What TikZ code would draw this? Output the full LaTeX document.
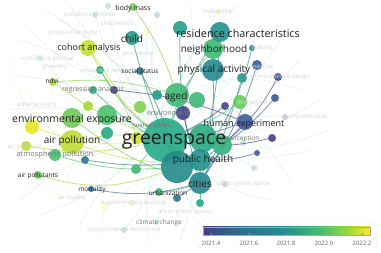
\documentclass[tikz,border=0pt]{standalone}
\usepackage{fontspec}
\setmainfont{Open Sans}
\usetikzlibrary{positioning,backgrounds}
\definecolor{c14}{HTML}{433E85}
\definecolor{c15}{HTML}{3B5B9A}
\definecolor{c16}{HTML}{2C728E}
\definecolor{c17}{HTML}{21918C}
\definecolor{c18}{HTML}{25A886}
\definecolor{c19}{HTML}{4AC16D}
\definecolor{c20}{HTML}{A5DB36}
\definecolor{c22}{HTML}{FDE725}
\definecolor{ctext}{HTML}{1E1E1E}
\pgfdeclarehorizontalshading{viridis}{100bp}{color(0bp)=(c14); color(25bp)=(c14);
  color(37bp)=(c16); color(50bp)=(c17); color(61bp)=(c19); color(69bp)=(c20); color(75bp)=(c22); color(100bp)=(c22)}

\begin{document}
\begin{tikzpicture}[x=1pt,y=-1pt,
  kw/.style={circle,inner sep=0pt,fill opacity=0.9,minimum size=#1},
  ghost/.style={circle,inner sep=0pt,fill opacity=0.25,minimum size=#1},
  lb/.style={text=ctext,inner sep=0pt,font=\fontsize{#1}{#1}\selectfont},
  mid/.style={text=black!55,inner sep=0pt,font=\fontsize{#1}{#1}\selectfont},
  dim/.style={text=black!17,inner sep=0pt,font=\fontsize{6}{6}\selectfont},
  lk/.style={line width=0.8pt,draw opacity=0.65},
  faint/.style={draw=c17!18,line width=0.35pt}]
  \useasboundingbox (0,0) rectangle (381,253);
  % keyword circles
  \node[kw=44pt,fill=c18] (gs) at (165,140) {};
  \node[kw=28pt,fill=c18!85!c19] (gsa) at (203,138) {};
  \node[kw=32pt,fill=c17!80!c16] (gsb) at (177,167) {};
  \node[kw=20pt,fill=c18!60!c19] (gsc) at (222,145) {};
  \node[kw=22pt,fill=c17] (ph) at (200,160) {};
  \node[kw=22pt,fill=c17!70!c16] (ct) at (200,183) {};
  \node[kw=16pt,fill=c15] (he) at (245,122) {};
  \node[kw=14pt,fill=c14!80!c15] (en) at (183,113) {};
  \node[kw=24pt,fill=c19!70!c18] (ag) at (177,95) {};
  \node[kw=16pt,fill=c19!70!c18] (aga) at (197,100) {};
  \node[kw=10pt,fill=c17!60!c18] (agb) at (157,95) {};
  \node[kw=12pt,fill=c20!60!c22] (us) at (137,138) {};
  \node[kw=22pt,fill=c17!75!c16] (pa) at (213,70) {};
  \node[kw=20pt,fill=c19!70!c18] (nb) at (213,49) {};
  \node[kw=20pt,fill=c17] (rc) at (220,32) {};
  \node[kw=14pt,fill=c18!60!c17] (rca) at (180,28) {};
  \node[kw=14pt,fill=c17!60!c18] (ch) at (132,38) {};
  \node[kw=8pt,fill=c19!50!c20] (bm) at (133,7) {};
  \node[kw=16pt,fill=c20!65!c22] (ca) at (88,48) {};
  \node[kw=8pt,fill=c16] (ss) at (140,71) {};
  \node[kw=8pt,fill=c18] (resa) at (100,70) {};
  \node[kw=8pt,fill=c20] (nd) at (53,82) {};
  \node[kw=8pt,fill=c18] (ra) at (93,90) {};
  \node[kw=8pt,fill=c14] (raa) at (114,90) {};
  \node[kw=20pt,fill=c19] (ee) at (107,115) {};
  \node[kw=20pt,fill=c19!60!c20] (eea) at (72,118) {};
  \node[kw=14pt,fill=c22!75!c20] (eeb) at (32,127) {};
  \node[kw=10pt,fill=c20] (eec) at (88,106) {};
  \node[kw=12pt,fill=c19!40!c20] (eed) at (140,107) {};
  \node[kw=12pt,fill=c18] (eee) at (107,133) {};
  \node[kw=24pt,fill=c20!70!c22] (ap) at (72,142) {};
  \node[kw=10pt,fill=c20!80!c22] (apt) at (26,146) {};
  \node[kw=12pt,fill=c19] (atp) at (55,155) {};
  \node[kw=8pt,fill=c16!80!c17] (tb) at (85,160) {};
  \node[kw=8pt,fill=c19!60!c20] (aps) at (38,175) {};
  \node[kw=6pt,fill=c16] (mo) at (91,189) {};
  \node[kw=8pt,fill=c19!70!c18] (ur) at (159,192) {};
  \node[kw=8pt,fill=c16] (ura) at (177,198) {};
  \node[kw=8pt,fill=c18] (ugs) at (200,203) {};
  \node[kw=10pt,fill=c19!70!c18] (gr) at (136,169) {};
  \node[kw=8pt,fill=c14] (pe) at (272,138) {};
  \node[kw=6pt,fill=c15] (peb) at (257,153) {};
  \node[kw=6pt,fill=c17!70!c16] (r1) at (252,48) {};
  \node[kw=10pt,fill=c15] (r2) at (257,65) {};
  \node[kw=8pt,fill=c14!60!c15] (r3) at (278,77) {};
  \node[kw=10pt,fill=c17!60!c18] (r4) at (242,78) {};
  \node[kw=8pt,fill=c15!80!c14] (r5) at (275,98) {};
  \node[kw=14pt,fill=c19!70!c20] (r6) at (240,102) {};
  \node[kw=8pt,fill=c14!80!c15] (r7) at (225,106) {};
  % faded circles
  \node[ghost=6pt,fill=c14] (f1) at (285,117) {};
  \node[ghost=6pt,fill=c17] (f2) at (254,168) {};
  \node[ghost=6pt,fill=c17] (f3) at (243,143) {};
  \node[ghost=6pt,fill=c17] (f4) at (124,230) {};
  \node[ghost=6pt,fill=c17] (f5) at (95,15) {};
  \node[ghost=6pt,fill=c17] (f6) at (108,6) {};
  \node[ghost=6pt,fill=c16] (f7) at (157,15) {};
  \node[ghost=6pt,fill=c22] (f8) at (147,32) {};
  \node[ghost=6pt,fill=c22] (f9) at (105,207) {};
  \node[ghost=6pt,fill=c20] (f10) at (132,203) {};
  \node[ghost=6pt,fill=c19] (f11) at (157,222) {};
  \node[ghost=6pt,fill=c22] (f12) at (218,12) {};
  \node[ghost=6pt,fill=c19] (f13) at (40,58) {};
  \node[ghost=6pt,fill=c16] (f14) at (225,184) {};
  % links
  \begin{pgfonlayer}{background}
    \foreach \t in {f1,f2,f3,f4,f5,f6,f7,f8,f9,f10,f11,f12,f13,f14}
      \draw[faint] (gs) to[bend left=12] (\t);
    \foreach \a/\b in {20/40,60/20,120/2,190/4,260/25,300/60,320/100,310/150,
      270/200,220/235,150/245,80/225,20/200,5/110,15/75,45/10,280/40,330/130}
      \draw[faint] (gs) to[bend right=15] (\a,\b);
    \foreach \a/\b in {30/30,70/5,240/5,300/90,290/180,180/240,40/215,5/160}
      \draw[faint] (ag) to[bend left=20] (\a,\b);
    \foreach \a/\b in {10/60,30/90,60/40,50/200,100/240,20/140}
      \draw[faint,draw=c20!25] (ap) to[bend left=25] (\a,\b);
    \draw[lk,c20!80!c22] (ca) to[bend left=8] (us);
    \draw[lk,c20!80!c22] (ca) to[bend right=10] (gs);
    \draw[lk,c19!50!c20] (bm) to[bend left=8] (ag);
    \draw[lk,c17] (ch) to[bend right=4] (gsb);
    \draw[lk,c17] (rca) to[bend right=8] (ct);
    \draw[lk,c17] (rc) to[bend left=6] (ph);
    \draw[lk,c17] (rc) to[bend right=6] (gs);
    \draw[lk,c19] (nb) to[bend right=10] (gs);
    \draw[lk,c17] (pa) to[bend left=8] (ct);
    \draw[lk,c16] (ss) to[bend left=6] (gsb);
    \draw[lk,c19!40!c20] (nd) to[bend left=10] (ag);
    \draw[lk,c20] (nd) to[bend right=8] (gs);
    \draw[lk,c18] (resa) to[bend right=10] (gs);
    \draw[lk,c14] (raa) to[bend left=8] (he);
    \draw[lk,c18] (ra) to[bend right=10] (ph);
    \draw[lk,c19] (ee) to[bend left=6] (gs);
    \draw[lk,c19!60!c20] (eea) to[bend right=10] (ct);
    \draw[lk,c22!80!c20] (eeb) to[bend right=12] (gs);
    \draw[lk,c20!70!c22] (ap) to[bend left=10] (gs);
    \draw[lk,c20!70!c22] (ap) to[bend right=12] (ph);
    \draw[lk,c19] (atp) to[bend right=10] (gsb);
    \draw[lk,c20] (aps) to[bend right=18] (gsb);
    \draw[lk,c20!80!c22] (apt) to[bend right=10] (gs);
    \draw[lk,c16] (mo) to[bend right=12] (ct);
    \draw[lk,c16] (tb) to[bend right=8] (ph);
    \draw[lk,c19] (ur) to[bend right=6] (ct);
    \draw[lk,c16] (ura) to (ct);
    \draw[lk,c18] (ugs) to (ct);
    \draw[lk,c19] (gr) to[bend left=6] (gs);
    \draw[lk,c14] (pe) to[bend left=10] (gs);
    \draw[lk,c15] (peb) to[bend left=8] (ph);
    \draw[lk,c15] (he) to[bend left=6] (gs);
    \draw[lk,c15] (he) to[bend right=6] (ct);
    \draw[lk,c17] (r1) to[bend left=10] (ph);
    \draw[lk,c15] (r2) to[bend left=8] (ct);
    \draw[lk,c14] (r3) to[bend left=10] (gsc);
    \draw[lk,c17] (r4) to[bend left=6] (ct);
    \draw[lk,c15] (r5) to[bend left=8] (ph);
    \draw[lk,c19] (r6) to[bend left=6] (gs);
    \draw[lk,c14] (r7) to[bend left=6] (gs);
    \draw[lk,c14] (en) to[bend right=6] (ph);
  \end{pgfonlayer}
  % faded labels
  \node[dim] (f5-t) at (90,15) {preschool children};
  \node[dim] (f6-t) at (117,23) {child health};
  \node[dim] (f12-t) at (218,12) {walkability};
  \node[dim] (pst-t) at (73,33) {prospective study};
  \node[dim] (f13-t) at (47,58) {confidence interval};
  \node[dim] (grn-t) at (55,68) {greenery};
  \node[dim] (resa-t) at (102,70) {residential area};
  \node[dim] (prv-t) at (138,54) {prevalence};
  \node[dim] (r1-t) at (262,48) {walking};
  \node[dim] (r2-t) at (262,66) {exercise};
  \node[dim] (r3-t) at (280,77) {environmental design};
  \node[dim] (r6-t) at (252,103) {depression};
  \node[dim] (f1-t) at (306,117) {comprehension};
  \node[dim] (ae-t) at (37,104) {adverse event};
  \node[dim] (apt-t) at (25,147) {air pollutant};
  \node[dim] (f9-t) at (72,198) {air quality};
  \node[dim] (f14-t) at (243,184) {urban green space};
  \node[dim] (f10-t) at (133,203) {supplementary analysis};
  \node[dim] (ugs-t) at (185,212) {urban green spaces};
  \node[dim] (f4-t) at (124,230) {environmental monitoring};
  % keyword labels
  \node[mid=7] (en-t) at (168,113) {environment};
  \node[mid=6] (us-t) at (152,125) {united states};
  \node[mid=7] (ra-t) at (93,90) {regression analysis};
  \node[mid=7.5] (atp-t) at (55,155) {atmospheric pollution};
  \node[mid=6.5] (f11-t) at (159,223) {climate change};
  \node[mid=6.5] (pe-t) at (243,139) {perception};
  \node[lb=19.5] (gs-t) at (174,142) {greenspace};
  \node[lb=10] (ph-t) at (203,160) {public health};
  \node[lb=10] (ct-t) at (200,184) {cities};
  \node[lb=9] (he-t) at (244,124) {human experiment};
  \node[lb=10] (ag-t) at (176,97) {aged};
  \node[lb=10] (pa-t) at (214,70) {physical activity};
  \node[lb=10] (nb-t) at (214,50) {neighborhood};
  \node[lb=10.8] (rc-t) at (238,33) {residence characteristics};
  \node[lb=10] (ch-t) at (132,39) {child};
  \node[lb=7] (bm-t) at (133,9) {body mass};
  \node[lb=9] (ca-t) at (89,48) {cohort analysis};
  \node[lb=6.5] (ss-t) at (140,71) {social status};
  \node[lb=6.5] (nd-t) at (52,81) {ndvi};
  \node[lb=10.5] (ee-t) at (72,120) {environmental exposure};
  \node[lb=10] (ap-t) at (72,141) {air pollution};
  \node[lb=6.5] (aps-t) at (38,176) {air pollutants};
  \node[lb=6.5] (mo-t) at (92,190) {mortality};
  \node[lb=6.5] (ur-t) at (168,193) {urbanization};
  % colour scale
  \node[draw=black!10,fill=white,rounded corners=4pt,minimum width=180pt,minimum height=26pt,inner sep=0pt] (lgd) at (287,235) {};
  \node[shading=viridis,draw=black!35,line width=0.3pt,minimum width=167pt,minimum height=8pt,inner sep=0pt] (bar) at (286.5,231) {};
  \foreach \v/\x in {2021.4/211,2021.6/249,2021.8/286,2022.0/324,2022.2/362} {
    \draw[black!45,line width=0.3pt] (\x,233) -- (\x,235);
    \node[text=black!60,font=\fontsize{6}{6}\selectfont,inner sep=0pt] at (\x,243) {\v};
  }
\end{tikzpicture}
\end{document}
